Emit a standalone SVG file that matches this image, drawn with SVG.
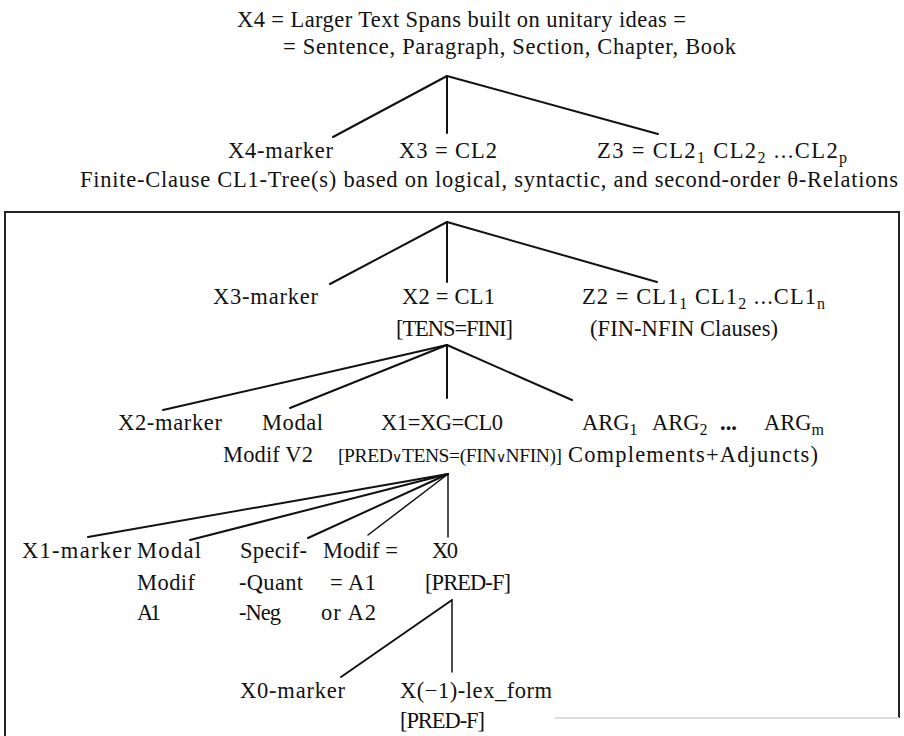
<svg xmlns="http://www.w3.org/2000/svg" width="904" height="736" viewBox="0 0 904 736">
<style>
text{font-family:"Liberation Serif","Times New Roman",serif;font-size:22.5px;fill:#111}
.sub{font-size:16px}
.or{font-size:14px}
.ln{stroke:#111;stroke-width:2;fill:none;stroke-linecap:round}
.box{stroke:#222;stroke-width:2;fill:none}
</style>
<rect width="904" height="736" fill="#fff"/>
<g id="frame">
<path class="box" d="M5,736 V212 H899 V718"/>
<line x1="555" y1="718" x2="899" y2="718" stroke="#ddd" stroke-width="2"/>
</g>
<g id="connectors">
<line class="ln" x1="447" y1="76" x2="333" y2="137"/>
<line class="ln" x1="447" y1="76" x2="447" y2="133"/>
<line class="ln" x1="447" y1="76" x2="658" y2="134"/>
<line class="ln" x1="447" y1="222" x2="330" y2="284"/>
<line class="ln" x1="447" y1="222" x2="447" y2="282"/>
<line class="ln" x1="447" y1="222" x2="657" y2="282"/>
<line class="ln" x1="447" y1="345" x2="163" y2="410"/>
<line class="ln" x1="447" y1="345" x2="290" y2="408"/>
<line class="ln" x1="447" y1="345" x2="447" y2="398"/>
<line class="ln" x1="447" y1="345" x2="572" y2="400"/>
<line class="ln" x1="448" y1="474" x2="88" y2="537"/>
<line class="ln" x1="448" y1="474" x2="190" y2="540"/>
<line class="ln" x1="448" y1="474" x2="308" y2="538"/>
<line class="ln" x1="448" y1="474" x2="368" y2="535" style="stroke-width:1.5"/>
<line class="ln" x1="448" y1="474" x2="448" y2="537" style="stroke-width:1.5"/>
<line class="ln" x1="452" y1="600" x2="341" y2="677"/>
<line class="ln" x1="452" y1="600" x2="452" y2="672" style="stroke-width:1.5"/>
</g>
<g id="X4">
<text x="237" y="27" textLength="449" lengthAdjust="spacing">X4 = Larger Text Spans built on unitary ideas =</text>
<text x="283" y="54" textLength="453" lengthAdjust="spacing">= Sentence, Paragraph, Section, Chapter, Book</text>
</g>
<g id="X4-marker"><text x="228" y="158" textLength="105" lengthAdjust="spacing">X4-marker</text></g>
<g id="X3"><text x="399" y="158" textLength="98" lengthAdjust="spacing">X3 = CL2</text></g>
<g id="Z3"><text x="597" y="158" textLength="250" lengthAdjust="spacing">Z3 = CL2<tspan class="sub" dy="5">1</tspan><tspan dy="-5"> CL2</tspan><tspan class="sub" dy="5">2</tspan><tspan dy="-5"> ...CL2</tspan><tspan class="sub" dy="5">p</tspan></text></g>
<g id="caption"><text x="80" y="187" textLength="818" lengthAdjust="spacing">Finite-Clause CL1-Tree(s) based on logical, syntactic, and second-order θ-Relations</text></g>
<g id="X3-marker"><text x="213" y="304" textLength="105" lengthAdjust="spacing">X3-marker</text></g>
<g id="X2">
<text x="402" y="304" textLength="93" lengthAdjust="spacing">X2 = CL1</text>
<text x="396" y="336" textLength="117" lengthAdjust="spacing">[TENS=FINI]</text>
</g>
<g id="Z2">
<text x="582" y="304" textLength="243" lengthAdjust="spacing">Z2 = CL1<tspan class="sub" dy="5">1</tspan><tspan dy="-5"> CL1</tspan><tspan class="sub" dy="5">2</tspan><tspan dy="-5"> ...CL1</tspan><tspan class="sub" dy="5">n</tspan></text>
<text x="590" y="336" textLength="188" lengthAdjust="spacing">(FIN-NFIN Clauses)</text>
</g>
<g id="X2-marker"><text x="118" y="430" textLength="104" lengthAdjust="spacing">X2-marker</text></g>
<g id="ModalV2">
<text x="262" y="430" textLength="61" lengthAdjust="spacing">Modal</text>
<text x="223" y="462" textLength="90" lengthAdjust="spacing">Modif V2</text>
</g>
<g id="X1">
<text x="381" y="430" textLength="122" lengthAdjust="spacing">X1=XG=CL0</text>
<text x="338" y="462" textLength="224" lengthAdjust="spacing" style="font-size:19.5px">[PRED<tspan class="or">∨</tspan>TENS=(FIN<tspan class="or">∨</tspan>NFIN)]</text>
</g>
<g id="ARG">
<text y="430"><tspan x="582">ARG</tspan><tspan class="sub" dy="5">1</tspan><tspan x="652" dy="-5">ARG</tspan><tspan class="sub" dy="5">2</tspan><tspan x="720" dy="-5" font-weight="bold">...</tspan><tspan x="764">ARG</tspan><tspan class="sub" dy="5">m</tspan></text>
<text x="568" y="462" textLength="250" lengthAdjust="spacing">Complements+Adjuncts)</text>
</g>
<g id="X1-marker"><text x="22" y="558" textLength="109" lengthAdjust="spacing">X1-marker</text></g>
<g id="ModalA1">
<text x="137" y="558" textLength="64" lengthAdjust="spacing">Modal</text>
<text x="137" y="590" textLength="58" lengthAdjust="spacing">Modif</text>
<text x="137" y="620" textLength="24" lengthAdjust="spacing">A1</text>
</g>
<g id="Specif">
<text x="240" y="558" textLength="67" lengthAdjust="spacing">Specif-</text>
<text x="239" y="590" textLength="64" lengthAdjust="spacing">-Quant</text>
<text x="239" y="620" textLength="42" lengthAdjust="spacing">-Neg</text>
</g>
<g id="ModifA">
<text x="323" y="558" textLength="75" lengthAdjust="spacing">Modif =</text>
<text x="330" y="590" textLength="46" lengthAdjust="spacing">= A1</text>
<text x="321" y="620" textLength="55" lengthAdjust="spacing">or A2</text>
</g>
<g id="X0">
<text x="432" y="558" textLength="26" lengthAdjust="spacing">X0</text>
<text x="425" y="590" textLength="86" lengthAdjust="spacing">[PRED-F]</text>
</g>
<g id="X0-marker"><text x="240" y="698" textLength="105" lengthAdjust="spacing">X0-marker</text></g>
<g id="Xm1">
<text x="400" y="698" textLength="152" lengthAdjust="spacing">X(−1)-lex_form</text>
<text x="400" y="728" textLength="85" lengthAdjust="spacing">[PRED-F]</text>
</g>
</svg>
